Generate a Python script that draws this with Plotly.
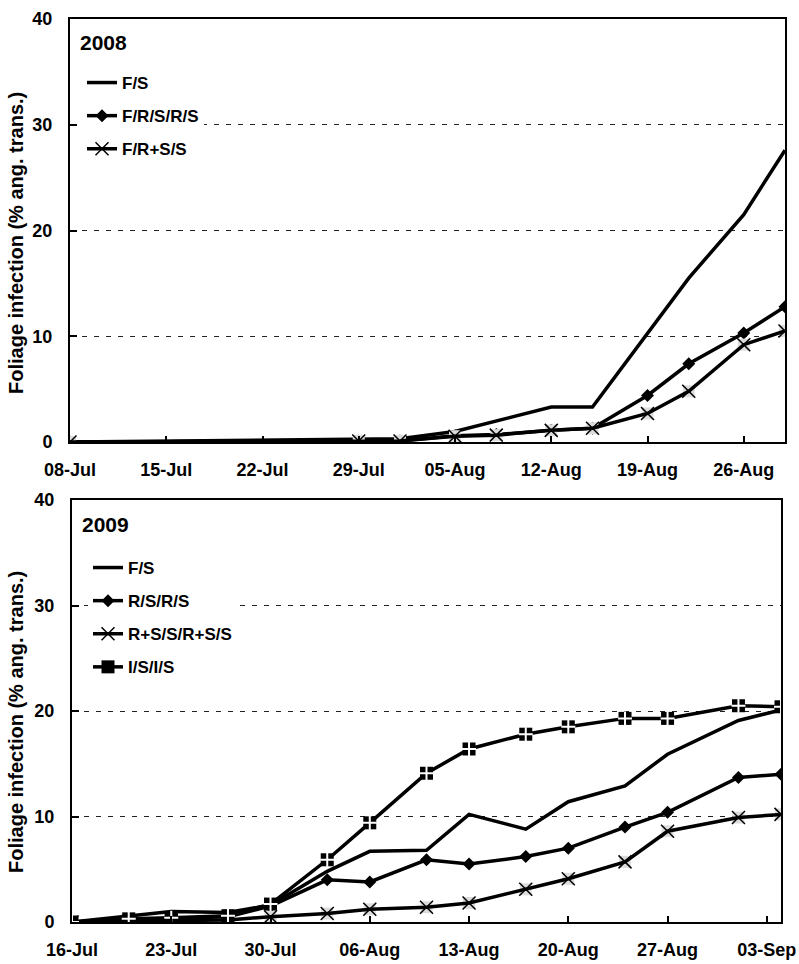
import plotly.graph_objects as go

# ---------------- data ----------------
dates_2008 = ['2008-07-08', '2008-07-29', '2008-08-01', '2008-08-05', '2008-08-08',
              '2008-08-12', '2008-08-15', '2008-08-19', '2008-08-22', '2008-08-26', '2008-08-29']
fs_2008 = [0, 0.2, 0.3, 1.0, 2.0, 3.3, 3.3, 10.2, 15.5, 21.5, 27.6]
frsrs_2008 = [0, 0.1, 0.1, 0.6, 0.7, 1.1, 1.3, 4.4, 7.4, 10.3, 12.8]
frss_2008 = [0, 0.1, 0.1, 0.55, 0.65, 1.1, 1.3, 2.7, 4.8, 9.2, 10.5]

dates_2009 = ['2009-07-16', '2009-07-20', '2009-07-23', '2009-07-27', '2009-07-30',
              '2009-08-03', '2009-08-06', '2009-08-10', '2009-08-13', '2009-08-17',
              '2009-08-20', '2009-08-24', '2009-08-27', '2009-09-01', '2009-09-04']
fs_2009 = [0, 0.6, 1.0, 0.9, 1.6, 4.8, 6.7, 6.8, 10.2, 8.8, 11.4, 12.9, 15.9, 19.1, 20.1]
rsrs_2009 = [0, 0.2, 0.3, 0.5, 1.5, 4.0, 3.8, 5.9, 5.5, 6.2, 7.0, 9.0, 10.4, 13.7, 14.0]
rssrss_2009 = [0, 0.1, 0.1, 0.2, 0.5, 0.8, 1.2, 1.4, 1.8, 3.1, 4.1, 5.7, 8.6, 9.9, 10.2]
isis_2009 = [0, 0.3, 0.4, 0.6, 1.7, 5.9, 9.4, 14.1, 16.4, 17.8, 18.5, 19.3, 19.3, 20.5, 20.4]

names_2008 = ['F/S', 'F/R/S/R/S', 'F/R+S/S']
names_2009 = ['F/S', 'R/S/R/S', 'R+S/S/R+S/S', 'I/S/I/S']
y_title = 'Foliage infection (% ang. trans.)'
y_ticks = [0, 10, 20, 30, 40]

# ---------------- layout helpers ----------------
W, H = 799, 964
FONT = 'Liberation Sans, Arial, sans-serif'
LW = 3.5


def fx(p):
    return p / W


def fy(p):
    return 1 - p / H


fig = go.Figure()

# ----- 2008 -----
fig.add_trace(go.Scatter(x=dates_2008, y=fs_2008, name=names_2008[0], mode='lines',
                         line=dict(color='black', width=LW), xaxis='x', yaxis='y',
                         legend='legend', legendgroup='a1'))
fig.add_trace(go.Scatter(x=dates_2008, y=frsrs_2008, name=names_2008[1], mode='lines+markers',
                         line=dict(color='black', width=LW),
                         marker=dict(symbol='diamond', size=10, color='black'),
                         xaxis='x', yaxis='y', legend='legend', legendgroup='a2'))
fig.add_trace(go.Scatter(x=dates_2008, y=frss_2008, mode='markers', showlegend=False,
                         marker=dict(symbol='square', size=12, color='#dcdcdc'),
                         xaxis='x', yaxis='y', hoverinfo='skip'))
fig.add_trace(go.Scatter(x=dates_2008, y=frss_2008, name=names_2008[2], mode='lines+markers',
                         line=dict(color='black', width=LW),
                         marker=dict(symbol='x-thin-open', size=13, color='black',
                                     line=dict(color='black', width=1.5)),
                         xaxis='x', yaxis='y', legend='legend', legendgroup='a3'))

# ----- 2009 -----
fig.add_trace(go.Scatter(x=dates_2009, y=fs_2009, name=names_2009[0], mode='lines',
                         line=dict(color='black', width=LW), xaxis='x2', yaxis='y2',
                         legend='legend2', legendgroup='b1'))
fig.add_trace(go.Scatter(x=dates_2009, y=rsrs_2009, name=names_2009[1], mode='lines+markers',
                         line=dict(color='black', width=LW),
                         marker=dict(symbol='diamond', size=10, color='black'),
                         xaxis='x2', yaxis='y2', legend='legend2', legendgroup='b2'))
fig.add_trace(go.Scatter(x=dates_2009, y=rssrss_2009, mode='markers', showlegend=False,
                         marker=dict(symbol='square', size=12, color='#dcdcdc'),
                         xaxis='x2', yaxis='y2', hoverinfo='skip'))
fig.add_trace(go.Scatter(x=dates_2009, y=rssrss_2009, name=names_2009[2], mode='lines+markers',
                         line=dict(color='black', width=LW),
                         marker=dict(symbol='x-thin-open', size=13, color='black',
                                     line=dict(color='black', width=1.5)),
                         xaxis='x2', yaxis='y2', legend='legend2', legendgroup='b3'))
fig.add_trace(go.Scatter(x=dates_2009, y=isis_2009, name=names_2009[3], mode='lines+markers',
                         line=dict(color='black', width=LW),
                         marker=dict(symbol='square', size=13, color='black'),
                         xaxis='x2', yaxis='y2', legend='legend2', legendgroup='b4'))
# white plus inside the black squares
fig.add_trace(go.Scatter(x=dates_2009, y=isis_2009, mode='markers', showlegend=False,
                         marker=dict(symbol='cross-thin-open', size=10, color='white',
                                     line=dict(color='white', width=2)),
                         xaxis='x2', yaxis='y2', hoverinfo='skip'))

tickfont = dict(family=FONT, size=18, color='black', weight='bold')
common_x = dict(type='date', dtick=7 * 86400000, tickformat='%d-%b', ticks='inside',
                ticklen=6, tickcolor='black', tickwidth=1.5, showline=True, linecolor='black',
                linewidth=2, mirror=True, showgrid=False, zeroline=False, automargin=False,
                tickfont=tickfont, ticklabelstandoff=10)
common_y = dict(range=[0, 40], tickvals=y_ticks, ticks='inside', ticklen=7,
                tickcolor='black', tickwidth=1.5, showline=True, linecolor='black',
                linewidth=2, mirror=True, showgrid=True, gridcolor='#222222', gridwidth=1,
                griddash='5px,7px', zeroline=False, automargin=False, tickfont=tickfont,
                ticklabelstandoff=12)

legend_common = dict(bgcolor='white', borderwidth=0, xanchor='left', yanchor='top',
                     tracegroupgap=8, font=dict(family=FONT, size=17, color='black', weight='bold'),
                     itemclick=False, itemdoubleclick=False)

fig.update_layout(
    template='plotly_white',
    width=W, height=H,
    margin=dict(l=0, r=0, t=0, b=0, autoexpand=False),
    paper_bgcolor='white', plot_bgcolor='white',
    showlegend=True,
    hovermode=False,
    xaxis=dict(common_x, domain=[fx(70), fx(785)], anchor='y',
               range=['2008-07-08', '2008-08-29'], tick0='2008-07-08'),
    yaxis=dict(common_y, domain=[fy(442), fy(19)], anchor='x'),
    xaxis2=dict(common_x, domain=[fx(72), fx(781)], anchor='y2',
                range=['2009-07-16', '2009-09-04'], tick0='2009-07-16'),
    yaxis2=dict(common_y, domain=[fy(922), fy(500)], anchor='x2'),
    legend=dict(legend_common, x=fx(82), y=fy(65)),
    legend2=dict(legend_common, x=fx(88), y=fy(550)),
    shapes=[
        # white backing behind the 2009 legend (hides the dashed 30-gridline there)
        dict(type='rect', xref='paper', yref='paper', x0=fx(80), x1=fx(310),
             y0=fy(684), y1=fy(550), fillcolor='white', line=dict(width=0), layer='between'),
    ],
    annotations=[
        dict(text='2008', xref='paper', yref='paper', x=fx(78), y=fy(43), xanchor='left',
             yanchor='middle', showarrow=False,
             font=dict(family=FONT, size=21, color='black', weight='bold')),
        dict(text='2009', xref='paper', yref='paper', x=fx(80), y=fy(524), xanchor='left',
             yanchor='middle', showarrow=False,
             font=dict(family=FONT, size=21, color='black', weight='bold')),
        dict(text=y_title, xref='paper', yref='paper', x=fx(16), y=fy(243), textangle=-90,
             xanchor='center', yanchor='middle', showarrow=False,
             font=dict(family=FONT, size=20, color='black', weight='bold')),
        dict(text=y_title, xref='paper', yref='paper', x=fx(16), y=fy(722), textangle=-90,
             xanchor='center', yanchor='middle', showarrow=False,
             font=dict(family=FONT, size=20, color='black', weight='bold')),
    ],
)

fig.write_html('out.html', config={'displayModeBar': False},
               post_script="document.body.style.margin='0px';"
                           "document.documentElement.style.overflow='hidden';")
